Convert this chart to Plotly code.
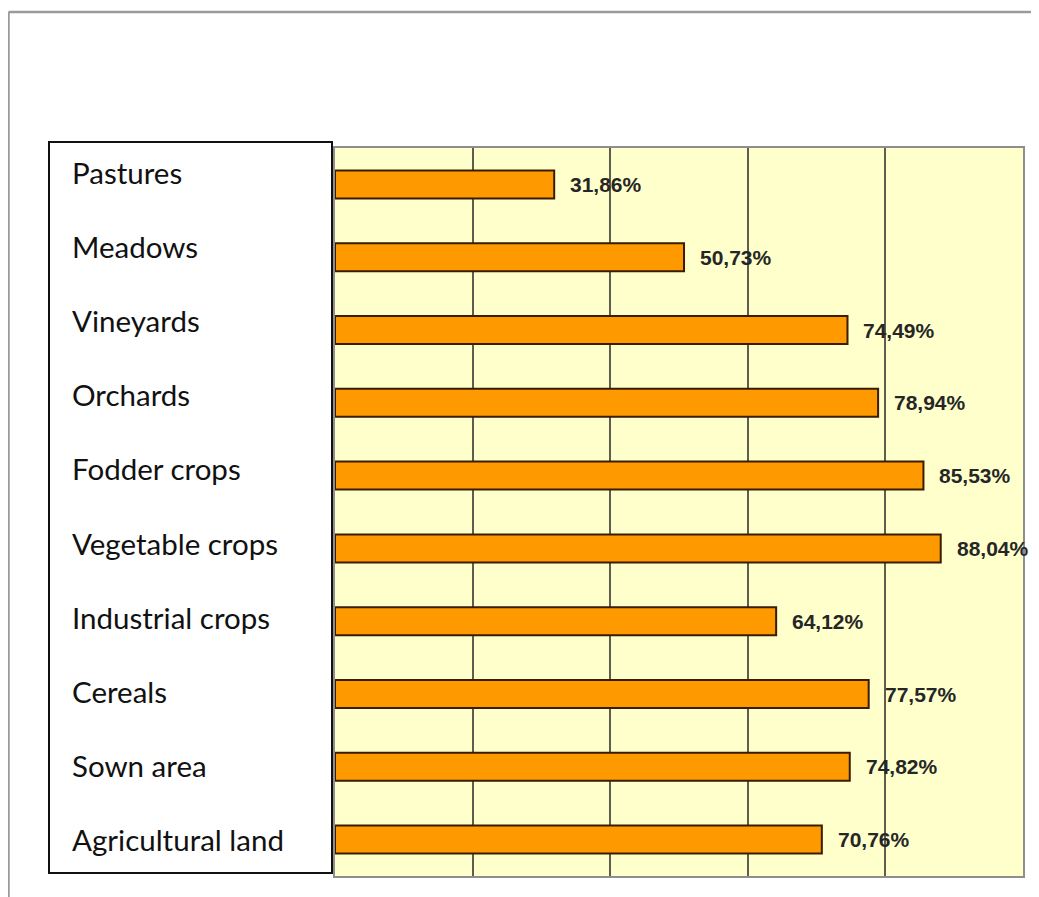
import plotly.graph_objects as go

categories = ["Pastures", "Meadows", "Vineyards", "Orchards", "Fodder crops",
              "Vegetable crops", "Industrial crops", "Cereals", "Sown area",
              "Agricultural land"]
values = [31.86, 50.73, 74.49, 78.94, 85.53, 88.04, 64.12, 77.57, 74.82, 70.76]
value_labels = [f"{v:.2f}".replace(".", ",") + "%" for v in values]

# page body has an 8px margin; figure coordinates are offset by it
OFF = 8
W, H = 1039 - OFF, 897 - OFF
ml, mr, mt, mb = 335 - OFF, 16, 148 - OFF, 21
pw, ph = W - ml - mr, H - mt - mb

def px_x(p):
    return (p - OFF - ml) / pw

def px_y(p):
    return (H - mb - (p - OFF)) / ph

fig = go.Figure()
fig.add_trace(go.Bar(
    x=values, y=categories, orientation="h",
    width=0.385,
    marker=dict(color="#FF9900", line=dict(color="#3A1C00", width=2)),
    hoverinfo="x+y",
))

annotations = []
for c, v, t in zip(categories, values, value_labels):
    annotations.append(dict(
        x=v, y=c, xref="x", yref="y", text=t, showarrow=False,
        xanchor="left", yanchor="middle", xshift=14,
        font=dict(family="Liberation Sans, Arial", size=21, color="#262626", weight="bold"),
    ))
for i, c in enumerate(categories):
    annotations.append(dict(
        x=px_x(70), y=c, xref="paper", yref="y", text=c, showarrow=False,
        xanchor="left", yanchor="middle", yshift=12.4 - 1.4 * i,
        font=dict(family="Lato, Carlito, Calibri", size=29.5, color="#111111"),
    ))

shapes = [
    # outer frame (top and left)
    dict(type="line", xref="paper", yref="paper",
         x0=px_x(8.5), x1=px_x(1045), y0=px_y(12), y1=px_y(12),
         line=dict(color="#9A9A9A", width=2.5)),
    dict(type="line", xref="paper", yref="paper",
         x0=px_x(8.5), x1=px_x(8.5), y0=px_y(12), y1=px_y(905),
         line=dict(color="#9A9A9A", width=2.5)),
    # category label box
    dict(type="rect", xref="paper", yref="paper",
         x0=px_x(49), x1=px_x(332), y0=px_y(873), y1=px_y(142),
         fillcolor="white", line=dict(color="#111111", width=2), layer="above"),
]

fig.update_layout(
    width=W, height=H,
    margin=dict(l=ml, r=mr, t=mt, b=mb),
    paper_bgcolor="white",
    plot_bgcolor="#FFFFCC",
    showlegend=False,
    annotations=annotations,
    shapes=shapes,
    xaxis=dict(range=[0, 100], dtick=20, showgrid=True, gridcolor="#5E5E50",
               gridwidth=1.5, showticklabels=False, zeroline=False,
               showline=True, linecolor="#8E8E8E", linewidth=2, mirror=True,
               fixedrange=True),
    yaxis=dict(categoryorder="array", categoryarray=categories,
               autorange="reversed", showticklabels=False, showgrid=False,
               zeroline=False, showline=True, linecolor="#8E8E8E", linewidth=2,
               mirror=True, ticks="outside", ticklen=4, tickcolor="#555555",
               tickson="boundaries", fixedrange=True),
)

fig.write_html("out.html")
